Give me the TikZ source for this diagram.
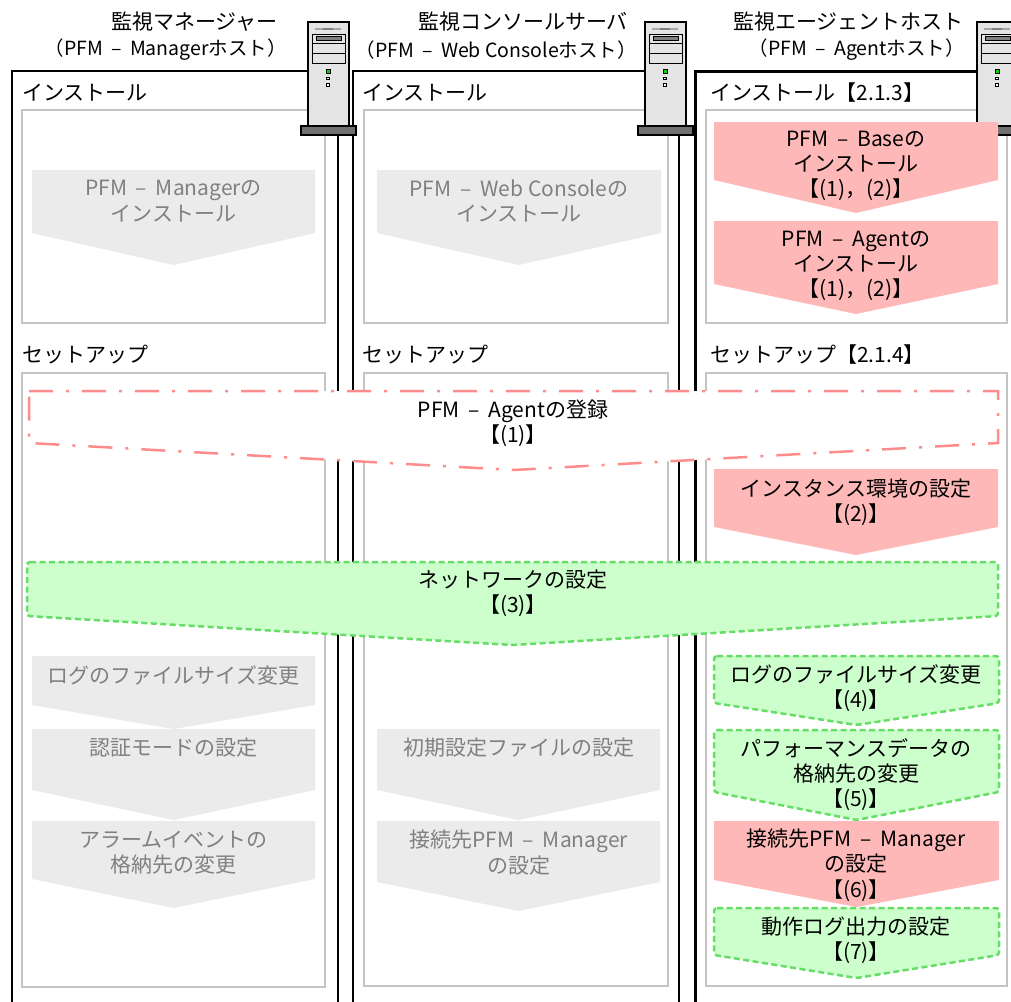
\documentclass[tikz,border=0pt]{standalone}
\usepackage{fontspec}
\setmainfont{Noto Sans CJK JP}
\newcommand{\pd}{\hspace{0.42em}–\hspace{0.42em}}
\definecolor{pinkfill}{HTML}{FFB8B8}
\definecolor{pinkline}{HTML}{FF8C8C}
\definecolor{greenfill}{HTML}{CCFFCC}
\definecolor{greenline}{HTML}{66DD66}
\definecolor{grayfill}{HTML}{EBEBEB}
\definecolor{graytext}{HTML}{808080}
\definecolor{boxgray}{HTML}{C4C4C4}
\definecolor{srvbody}{HTML}{E4E4E4}
\definecolor{srvbase}{HTML}{707070}
\tikzset{
  txt/.style={font=\fontsize{21}{25.3}\selectfont, align=center, inner sep=0pt, text=black},
  gtxt/.style={txt, text=graytext},
  hdr/.style={font=\fontsize{21}{25}\selectfont, inner sep=0pt, anchor=west},
  ttl/.style={font=\fontsize{21}{25}\selectfont, inner sep=0pt, anchor=east},
  ttlb/.style={font=\fontsize{19.5}{25}\selectfont, inner sep=0pt, anchor=east},
  colbox/.style={draw=black, line width=1.5pt, fill=white},
  colboxbold/.style={draw=black, line width=3pt, fill=white},
  innerbox/.style={draw=boxgray, line width=2pt, fill=white},
  grayarrow/.style={fill=grayfill},
  pinkarrow/.style={fill=pinkfill},
  greenarrow/.style={fill=greenfill, draw=greenline, line width=2.5pt, dash pattern=on 6pt off 3.5pt, rounded corners=3pt},
  regarrow/.style={fill=white, draw=pinkline, line width=2.5pt, dash pattern=on 24pt off 13pt on 3pt off 13pt},
  server/.pic={
    \draw[fill=srvbody, line width=1.5pt] (0,0) rectangle (41,104);
    \draw[fill=srvbase, line width=1.5pt] (-7,104) rectangle (48,113);
    \draw[gray!70, line width=1.5pt] (7,7) -- (33,7);
    \draw[gray, line width=2pt] (15,7) -- (25,7);
    \draw[line width=1pt] (4,12) rectangle (37,21);
    \draw[fill=gray, line width=0.8pt] (8,14.5) rectangle (33,18.5);
    \draw[line width=1pt] (4,21) rectangle (37,31);
    \draw[line width=1pt] (4,31) rectangle (37,41);
    \draw[fill=green!75!black!60!green, line width=0.8pt] (18,47.5) rectangle (22,51.5);
    \draw[fill=white, line width=0.8pt] (18.7,55) rectangle (21.3,57.6);
    \draw[fill=white, line width=0.8pt] (18.7,61.5) rectangle (21.3,64.1);
  }
}
\newcommand{\flowarrow}[6]{%
  \path[#1] (#2,#4) -- (#3,#4) -- (#3,#5) -- ({(#2+#3)/2},#6) -- (#2,#5) -- cycle;}
\begin{document}
\begin{tikzpicture}[x=1pt,y=-1pt]
\useasboundingbox (0,0) rectangle (1011,1001);
\clip (0,0) rectangle (1011,1001);
\fill[white] (0,0) rectangle (1011,1001);

% column headings
\node[ttl] (h1a) at (278,22) {監視マネージャー};
\node[ttlb] (h1b) at (287,50) {（PFM\pd Managerホスト）};
\node[ttl] (h2a) at (628,22) {監視コンソールサーバ};
\node[ttlb] (h2b) at (637,50) {（PFM\pd Web Consoleホスト）};
\node[ttl] (h3a) at (964,22) {監視エージェントホスト};
\node[ttlb] (h3b) at (965,50) {（PFM\pd Agentホスト）};

% column boxes
\path[colbox] (12,71) rectangle (338,1030);
\path[colbox] (353,71) rectangle (679,1030);
\path[colboxbold] (695,71) rectangle (1040,1030);

% section headings
\node[hdr] (s1i) at (22,93) {インストール};
\node[hdr] (s2i) at (362,93) {インストール};
\node[hdr] (s3i) at (710,93) {インストール【2.1.3】};
\node[hdr] (s1s) at (22,355) {セットアップ};
\node[hdr] (s2s) at (362,355) {セットアップ};
\node[hdr] (s3s) at (710,355) {セットアップ【2.1.4】};

% inner boxes
\path[innerbox] (22,110) rectangle (325,323);
\path[innerbox] (22,373) rectangle (325,987);
\path[innerbox] (364,110) rectangle (668,323);
\path[innerbox] (364,373) rectangle (668,986);
\path[innerbox] (706,110) rectangle (1007,323);
\path[innerbox] (706,373) rectangle (1007,986);

% servers
\pic at (308,22) {server};
\pic at (645,22) {server};
\pic at (977,22) {server};

% install arrows
\flowarrow{grayarrow}{32}{315}{170}{233}{265}
\node[gtxt] (mgrinst) at (173.5,201) {PFM\pd Managerの\\インストール};
\flowarrow{grayarrow}{377}{661}{170}{233}{265}
\node[gtxt] (wcinst) at (519,201) {PFM\pd Web Consoleの\\インストール};
\flowarrow{pinkarrow}{714}{998}{122}{180}{213}
\node[txt] (baseinst) at (856,166) {PFM\pd Baseの\\インストール\\【(1)，(2)】};
\flowarrow{pinkarrow}{714}{998}{221}{284}{314}
\node[txt] (aginst) at (856,266) {PFM\pd Agentの\\インストール\\【(1)，(2)】};

% setup: registration and network
\flowarrow{regarrow}{29}{998}{391}{443}{470}
\node[txt] (reg) at (513,423) {PFM\pd Agentの登録\\【(1)】};
\flowarrow{pinkarrow}{714}{998}{469}{527}{555}
\node[txt] (inst) at (856,502.5) {インスタンス環境の設定\\【(2)】};
\flowarrow{greenarrow}{27}{998}{562}{616}{645}
\node[txt] (net) at (513,593.5) {ネットワークの設定\\【(3)】};

% left setup
\flowarrow{grayarrow}{32}{315}{656}{705}{729}
\node[gtxt] (mlog) at (173.5,675) {ログのファイルサイズ変更};
\flowarrow{grayarrow}{32}{315}{729}{790}{820}
\node[gtxt] (mauth) at (173.5,748) {認証モードの設定};
\flowarrow{grayarrow}{32}{315}{821}{879}{908}
\node[gtxt] (malarm) at (173.5,852.5) {アラームイベントの\\格納先の変更};

% middle setup
\flowarrow{grayarrow}{377}{660}{729}{790}{820}
\node[gtxt] (wini) at (518.5,748) {初期設定ファイルの設定};
\flowarrow{grayarrow}{377}{660}{821}{882}{911}
\node[gtxt] (wcon) at (518.5,852.5) {接続先PFM\pd Manager\\の設定};

% right setup
\flowarrow{greenarrow}{714}{999}{656}{703}{725}
\node[txt] (alog) at (856,688) {ログのファイルサイズ変更\\【(4)】};
\flowarrow{greenarrow}{714}{999}{730}{792}{820}
\node[txt] (aperf) at (856,774.5) {パフォーマンスデータの\\格納先の変更\\【(5)】};
\flowarrow{pinkarrow}{714}{999}{821}{880}{907}
\node[txt] (acon) at (856,865) {接続先PFM\pd Manager\\の設定\\【(6)】};
\flowarrow{greenarrow}{714}{999}{908}{955}{978}
\node[txt] (aop) at (856,940.5) {動作ログ出力の設定\\【(7)】};
\end{tikzpicture}
\end{document}
